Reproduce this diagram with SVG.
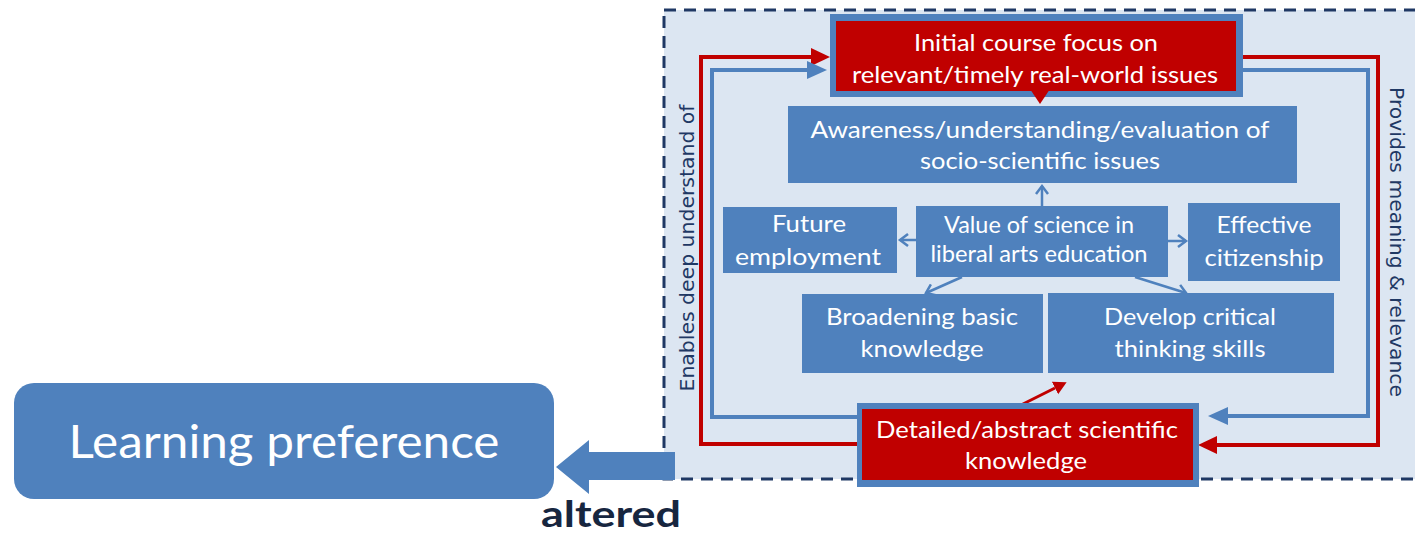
<svg xmlns="http://www.w3.org/2000/svg" width="1415" height="537" viewBox="0 0 1415 537">
  <style>
    .box { fill: #4f81bd; }
    .red { fill: #c00000; }
    .t { font-family: Lato, "Open Sans", "Liberation Sans", sans-serif; font-size: 22.5px; fill: #ffffff; text-anchor: middle; }
    .side { font-family: "DejaVu Sans", Verdana, sans-serif; font-size: 20px; fill: #1f3864; text-anchor: middle; }
    .loopR { fill: none; stroke: #c00000; stroke-width: 4; stroke-linejoin: miter; }
    .loopB { fill: none; stroke: #4f81bd; stroke-width: 4; stroke-linejoin: miter; }
    .thin { fill: none; stroke: #4f81bd; stroke-width: 2.5; }
    .thinR { fill: none; stroke: #c00000; stroke-width: 3; }
  </style>
  <defs>
    <marker id="headR" markerUnits="userSpaceOnUse" markerWidth="20" markerHeight="20" viewBox="0 -10 20 20" refX="0" refY="0" orient="auto">
      <path d="M0,-9 L19,0 L0,9 z" fill="#c00000"/>
    </marker>
    <marker id="headB" markerUnits="userSpaceOnUse" markerWidth="22" markerHeight="22" viewBox="0 -11 22 22" refX="0" refY="0" orient="auto">
      <path d="M0,-9 L20,0 L0,9 z" fill="#4f81bd"/>
    </marker>
    <marker id="chev" markerUnits="userSpaceOnUse" markerWidth="14" markerHeight="14" viewBox="-10 -7 12 14" refX="0" refY="0" orient="auto">
      <path d="M-8,-6 L0,0 L-8,6" fill="none" stroke="#4f81bd" stroke-width="2.5"/>
    </marker>
    <marker id="headRs" markerUnits="userSpaceOnUse" markerWidth="16" markerHeight="16" viewBox="0 -8 16 16" refX="0" refY="0" orient="auto">
      <path d="M0,-7 L13,0 L0,7 z" fill="#c00000"/>
    </marker>
  </defs>

  <!-- dashed frame -->
  <rect id="frame" x="664" y="10" width="800" height="469" fill="#dce6f2" stroke="#1f3864" stroke-width="3" stroke-dasharray="12 8"/>

  <!-- side labels -->
  <g id="label-left">
    <text class="side" transform="translate(694,248) rotate(-90)" textLength="287" lengthAdjust="spacingAndGlyphs">Enables deep understand of</text>
  </g>
  <g id="label-right">
    <text class="side" transform="translate(1390,242) rotate(90)" textLength="310" lengthAdjust="spacingAndGlyphs">Provides meaning &amp; relevance</text>
  </g>

  <!-- connectors -->
  <g id="connectors">
    <path class="loopR" d="M857,444 H701 V57 H811" marker-end="url(#headR)"/>
    <path class="loopB" d="M857,417 H712 V70 H807" marker-end="url(#headB)"/>
    <path class="loopR" d="M1243,57 H1378 V445 H1217" marker-end="url(#headR)"/>
    <path class="loopB" d="M1243,70 H1368 V416 H1228" marker-end="url(#headB)"/>
    <path class="thin" d="M1042,206 V186" marker-end="url(#chev)"/>
    <path class="thin" d="M916,240 H900" marker-end="url(#chev)"/>
    <path class="thin" d="M1168,241 H1186" marker-end="url(#chev)"/>
    <path class="thin" d="M962,277 L926,293" marker-end="url(#chev)"/>
    <path class="thin" d="M1135,277 L1186,293" marker-end="url(#chev)"/>
    <path class="thinR" d="M1021,405 L1055,388" marker-end="url(#headRs)"/>
    <!-- big block arrow "altered" -->
    <path d="M675,452 H589 V440 L556,467 L589,494 V480 H675 z" fill="#4f81bd"/>
  </g>

  <!-- nodes -->
  <g id="node-initial">
    <rect class="box" x="830" y="14" width="413" height="83"/>
    <rect class="red" x="836" y="21" width="400" height="70"/>
    <path d="M1030,89 L1050,89 L1040,104 z" fill="#c00000"/>
    <text class="t" x="1036" y="51" textLength="244" lengthAdjust="spacingAndGlyphs">Initial course focus on</text>
    <text class="t" x="1035" y="83" textLength="366" lengthAdjust="spacingAndGlyphs">relevant/timely real-world issues</text>
  </g>
  <g id="node-awareness">
    <rect class="box" x="788" y="106" width="509" height="77"/>
    <text class="t" x="1040" y="138" textLength="459" lengthAdjust="spacingAndGlyphs">Awareness/understanding/evaluation of</text>
    <text class="t" x="1040" y="169" textLength="240" lengthAdjust="spacingAndGlyphs">socio-scientific issues</text>
  </g>
  <g id="node-future">
    <rect class="box" x="723" y="207" width="174" height="66"/>
    <text class="t" x="809" y="232" textLength="74" lengthAdjust="spacingAndGlyphs">Future</text>
    <text class="t" x="808" y="265" textLength="146" lengthAdjust="spacingAndGlyphs">employment</text>
  </g>
  <g id="node-value">
    <rect class="box" x="916" y="206" width="252" height="71"/>
    <text class="t" x="1039" y="233" textLength="190" lengthAdjust="spacingAndGlyphs">Value of science in</text>
    <text class="t" x="1039" y="262" textLength="217" lengthAdjust="spacingAndGlyphs">liberal arts education</text>
  </g>
  <g id="node-effective">
    <rect class="box" x="1188" y="203" width="152" height="78"/>
    <text class="t" x="1264" y="233" textLength="95" lengthAdjust="spacingAndGlyphs">Effective</text>
    <text class="t" x="1264" y="266" textLength="119" lengthAdjust="spacingAndGlyphs">citizenship</text>
  </g>
  <g id="node-broadening">
    <rect class="box" x="802" y="294" width="241" height="79"/>
    <text class="t" x="922" y="325" textLength="192" lengthAdjust="spacingAndGlyphs">Broadening basic</text>
    <text class="t" x="922" y="357" textLength="123" lengthAdjust="spacingAndGlyphs">knowledge</text>
  </g>
  <g id="node-develop">
    <rect class="box" x="1048" y="293" width="286" height="80"/>
    <text class="t" x="1190" y="325" textLength="172" lengthAdjust="spacingAndGlyphs">Develop critical</text>
    <text class="t" x="1190" y="357" textLength="151" lengthAdjust="spacingAndGlyphs">thinking skills</text>
  </g>
  <g id="node-detailed">
    <rect class="box" x="857" y="403" width="342" height="84"/>
    <rect class="red" x="862" y="409" width="331" height="71"/>
    <text class="t" x="1027" y="438" textLength="302" lengthAdjust="spacingAndGlyphs">Detailed/abstract scientific</text>
    <text class="t" x="1026" y="469" textLength="122" lengthAdjust="spacingAndGlyphs">knowledge</text>
  </g>
  <g id="node-learning">
    <rect class="box" x="14" y="383" width="540" height="116" rx="20" ry="20"/>
    <text x="284" y="458" font-family="Lato, 'Open Sans', 'Liberation Sans', sans-serif" font-size="46" fill="#ffffff" text-anchor="middle" textLength="431" lengthAdjust="spacingAndGlyphs">Learning preference</text>
  </g>
  <g id="label-altered">
    <text x="611" y="527" font-family="Lato, 'Liberation Sans', sans-serif" font-size="37" font-weight="bold" fill="#17263f" text-anchor="middle" textLength="140" lengthAdjust="spacingAndGlyphs">altered</text>
  </g>
</svg>
